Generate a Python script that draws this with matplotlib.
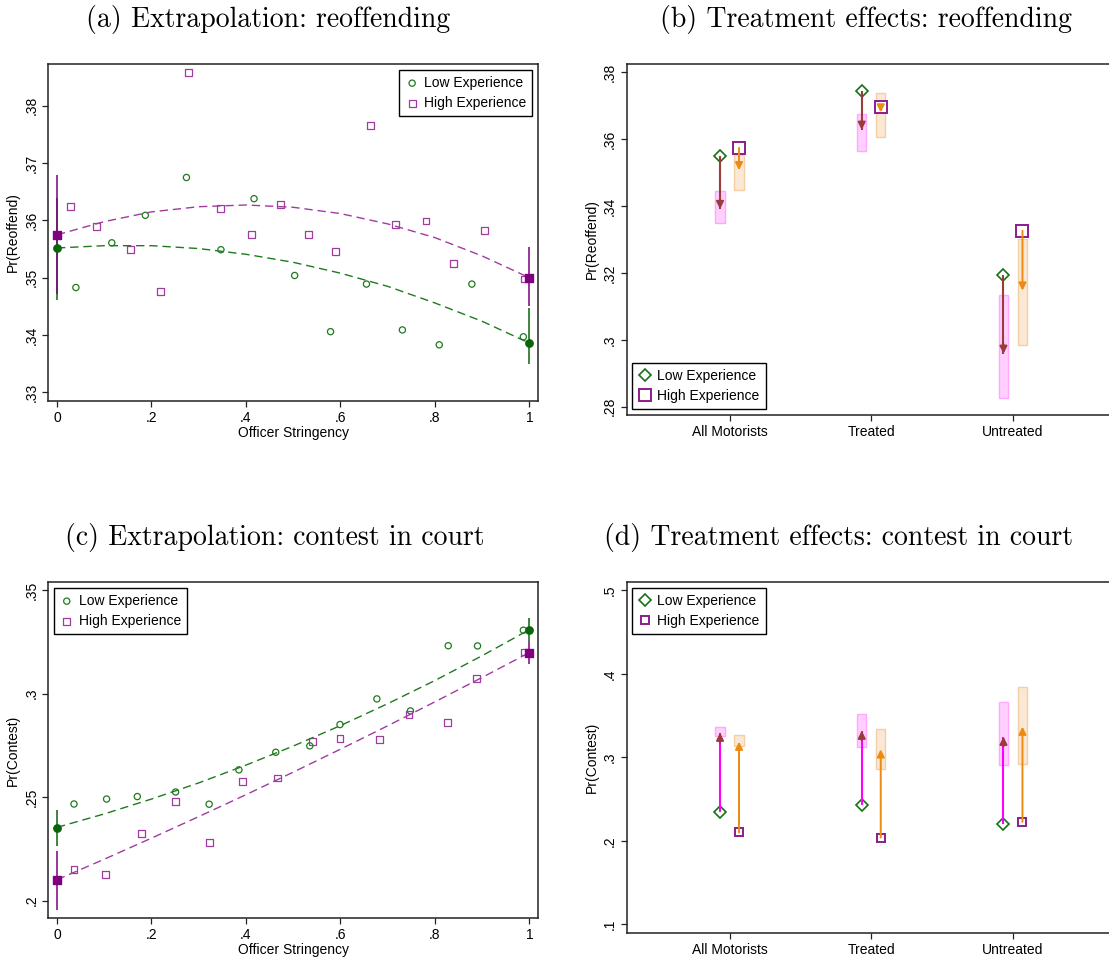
import matplotlib.pyplot as plt

plt.rcParams['font.family'] = ['Liberation Sans', 'DejaVu Sans']
plt.rcParams['font.size'] = 10

# ---- panel (a): extrapolation, reoffending
low_x_a = [.040, .116, .187, .274, .347, .417, .503, .579, .655, .731, .809, .878, .987]
low_y_a = [.3483, .3561, .3609, .3675, .3549, .3638, .3504, .3406, .3489, .3409, .3383, .3489, .3397]
high_x_a = [.028, .083, .156, .219, .279, .346, .411, .473, .533, .590, .663, .717, .781, .840, .905, .989]
high_y_a = [.3625, .3589, .3549, .3476, .3858, .3621, .3576, .3628, .3575, .3546, .3766, .3593, .3599,
            .3525, .3582, .3498]
fit_x = [0, .1, .2, .3, .4, .5, .6, .7, .8, .9, 1]
low_fit_a = [.3552, .3556, .3556, .3551, .3541, .3527, .3508, .3485, .3456, .3424, .3386]
high_fit_a = [.3575, .3598, .3615, .3624, .3627, .3623, .3612, .3594, .3570, .3538, .3500]
end_x = [0, 1]
low_end_a = [.3552, .3386]
low_ci_lo_a = [.3462, .3349]
low_ci_hi_a = [.3640, .3447]
high_end_a = [.3575, .3500]
high_ci_lo_a = [.3472, .3450]
high_ci_hi_a = [.3679, .3554]

# ---- panel (c): extrapolation, contest in court
low_x_c = [.036, .105, .170, .251, .322, .385, .463, .535, .599, .677, .748, .828, .890, .987]
low_y_c = [.2467, .2491, .2503, .2525, .2466, .2632, .2717, .2748, .2851, .2975, .2917, .3232, .3231, .3307]
high_x_c = [.036, .103, .179, .250, .323, .393, .467, .541, .599, .683, .745, .826, .888, .989]
high_y_c = [.2150, .2126, .2325, .2480, .2279, .2575, .2593, .2768, .2783, .2778, .2901, .2859, .3073, .3202]
low_fit_c = [.2354, .2419, .2491, .2569, .2655, .2747, .2846, .2952, .3064, .3184, .3310]
high_fit_c = [.2101, .2200, .2302, .2406, .2512, .2621, .2732, .2845, .2961, .3079, .3199]
low_end_c = [.2353, .3310]
low_ci_lo_c = [.2263, .3253]
low_ci_hi_c = [.2440, .3366]
high_end_c = [.2101, .3199]
high_ci_lo_c = [.1957, .3146]
high_ci_hi_c = [.2238, .3253]

# ---- panels (b) and (d): treatment effects
groups = ['All Motorists', 'Treated', 'Untreated']
low_b = [.3551, .3745, .3193]
low_cf_b = [.3391, .3628, .2958]
low_cf_lo_b = [.3349, .3566, .2827]
low_cf_hi_b = [.3445, .3675, .3133]
high_b = [.3574, .3696, .3326]
high_cf_b = [.3507, .3680, .3147]
high_cf_lo_b = [.3448, .3608, .2983]
high_cf_hi_b = [.3553, .3738, .3301]

low_d = [.2348, .2428, .2200]
low_cf_d = [.3296, .3320, .3248]
low_cf_lo_d = [.3260, .3128, .2912]
low_cf_hi_d = [.3360, .3516, .3664]
high_d = [.2100, .2040, .2228]
high_cf_d = [.3188, .3096, .3368]
high_cf_lo_d = [.3140, .2864, .2924]
high_cf_hi_d = [.3268, .3340, .3844]

x_ticks = [0, .2, .4, .6, .8, 1]
x_ticklabels = ['0', '.2', '.4', '.6', '.8', '1']
yt_a = [.33, .34, .35, .36, .37, .38]
ytl_a = ['.33', '.34', '.35', '.36', '.37', '.38']
yt_b = [.28, .30, .32, .34, .36, .38]
ytl_b = ['.28', '.3', '.32', '.34', '.36', '.38']
yt_c = [.20, .25, .30, .35]
ytl_c = ['.2', '.25', '.3', '.35']
yt_d = [.1, .2, .3, .4, .5]
ytl_d = ['.1', '.2', '.3', '.4', '.5']

titles = ['(a) Extrapolation: reoffending', '(b) Treatment effects: reoffending',
          '(c) Extrapolation: contest in court', '(d) Treatment effects: contest in court']

GREEN = '#1f7a1f'
DKGREEN = '#0a640a'
PURPLE = '#a03ca0'
DKPURPLE = '#800080'
BROWN = '#9b3b3b'
MAGENTA = '#ff00ff'
ORANGE = '#ec8a12'
PINK_F, PINK_E = '#ffd0ff', '#ffa8ff'
ORG_F, ORG_E = '#fbe8d4', '#f2cfa6'

W, H = 1109, 959
fig = plt.figure(figsize=(W / 100, H / 100), dpi=100)


def rect(l, t, r, b):
    return [l / W, 1 - b / H, (r - l) / W, (b - t) / H]


def style(ax, ylim, yt, ytl, ylabel):
    ax.set_ylim(*ylim)
    ax.set_yticks(yt)
    ax.set_yticklabels(ytl, rotation=90, va='center')
    ax.set_ylabel(ylabel, labelpad=3)
    for s in ax.spines.values():
        s.set_linewidth(1.1)
        s.set_color('#222222')
    ax.tick_params(direction='out', length=4, width=0.9, color='#222222', pad=3)


def legend(ax, loc):
    leg = ax.legend(loc=loc, fancybox=False, edgecolor='black', framealpha=1, borderpad=0.45,
                    handletextpad=0.35, handlelength=1.0, borderaxespad=0.4, labelspacing=0.45,
                    scatterpoints=1)
    leg.get_frame().set_linewidth(1.0)


def extrapolation(ax, lx, ly, hx, hy, lfit, hfit, lend, llo, lhi, hend, hlo, hhi):
    ax.plot(fit_x, lfit, color=GREEN, lw=1.0, dashes=(6, 3.5))
    ax.plot(fit_x, hfit, color=PURPLE, lw=1.0, dashes=(6, 3.5))
    ax.scatter(lx, ly, s=20, facecolors='none', edgecolors=GREEN, lw=0.9, label='Low Experience')
    ax.scatter(hx, hy, s=24, marker='s', facecolors='none', edgecolors=PURPLE, lw=0.9,
               label='High Experience')
    ax.vlines(end_x, llo, lhi, color=DKGREEN, lw=1.1)
    ax.vlines(end_x, hlo, hhi, color=DKPURPLE, lw=1.1)
    ax.scatter(end_x, lend, s=28, color=DKGREEN, zorder=4)
    ax.scatter(end_x, hend, s=36, marker='s', color=DKPURPLE, zorder=4)
    ax.set_xlim(-0.019, 1.018)
    ax.set_xticks(x_ticks)
    ax.set_xticklabels(x_ticklabels)
    ax.set_xlabel('Officer Stringency', labelpad=1)


def effects(ax, low, low_cf, llo, lhi, high, high_cf, hlo, hhi, low_shaft, dsize, ssize):
    off = 0.067
    pos = [1, 2, 3]
    xl = [p - off for p in pos]
    xh = [p + off for p in pos]
    ax.bar(xl, [h - l for l, h in zip(llo, lhi)], bottom=llo, width=0.065,
           color=PINK_F, edgecolor=PINK_E, lw=1.0, zorder=1)
    ax.bar(xh, [h - l for l, h in zip(hlo, hhi)], bottom=hlo, width=0.065,
           color=ORG_F, edgecolor=ORG_E, lw=1.0, zorder=1)
    ax.plot(xl, low, linestyle='none', marker='D', ms=dsize, mfc='white', mec='#167016', mew=1.2,
            label='Low Experience', zorder=2)
    ax.plot(xh, high, linestyle='none', marker='s', ms=ssize, mfc='white', mec='#8b1c8b', mew=1.4,
            label='High Experience', zorder=2)
    for x, a, b in zip(xl, low, low_cf):
        sign = 1 if b > a else -1
        ax.plot([x, x], [a, b], color=low_shaft, lw=1.5, zorder=3, solid_capstyle='butt')
        ax.annotate('', xy=(x, b), xytext=(0, -sign * 7), textcoords='offset points',
                    arrowprops=dict(arrowstyle='-|>', color=BROWN, lw=1.4, mutation_scale=11,
                                    shrinkA=0, shrinkB=0), zorder=4)
    for x, a, b in zip(xh, high, high_cf):
        ax.annotate('', xy=(x, b), xytext=(x, a),
                    arrowprops=dict(arrowstyle='-|>', color=ORANGE, lw=1.4, mutation_scale=11,
                                    shrinkA=0, shrinkB=0), zorder=4)
    ax.set_xlim(0.273, 3.727)
    ax.set_xticks(pos)
    ax.set_xticklabels(groups)


ax_a = fig.add_axes(rect(48, 64, 538, 401))
extrapolation(ax_a, low_x_a, low_y_a, high_x_a, high_y_a, low_fit_a, high_fit_a,
              low_end_a, low_ci_lo_a, low_ci_hi_a, high_end_a, high_ci_lo_a, high_ci_hi_a)
style(ax_a, (.3285, .3873), yt_a, ytl_a, 'Pr(Reoffend)')
legend(ax_a, 'upper right')

ax_b = fig.add_axes(rect(626.5, 64, 1116, 415))
effects(ax_b, low_b, low_cf_b, low_cf_lo_b, low_cf_hi_b, high_b, high_cf_b, high_cf_lo_b,
        high_cf_hi_b, BROWN, 6, 8)
style(ax_b, (.2775, .3825), yt_b, ytl_b, 'Pr(Reoffend)')
legend(ax_b, 'lower left')

ax_c = fig.add_axes(rect(48, 582, 538, 918))
extrapolation(ax_c, low_x_c, low_y_c, high_x_c, high_y_c, low_fit_c, high_fit_c,
              low_end_c, low_ci_lo_c, low_ci_hi_c, high_end_c, high_ci_lo_c, high_ci_hi_c)
style(ax_c, (.1916, .354), yt_c, ytl_c, 'Pr(Contest)')
legend(ax_c, 'upper left')

ax_d = fig.add_axes(rect(626.5, 582, 1116, 933))
effects(ax_d, low_d, low_cf_d, low_cf_lo_d, low_cf_hi_d, high_d, high_cf_d, high_cf_lo_d,
        high_cf_hi_d, MAGENTA, 6, 5.2)
style(ax_d, (.0896, .5101), yt_d, ytl_d, 'Pr(Contest)')
legend(ax_d, 'upper left')

title_xy = [(268, 20), (866, 20), (275, 537), (839, 537)]
for t, (x, y) in zip(titles, title_xy):
    fig.text(x / W, 1 - y / H, t, ha='center', va='center', fontsize=20, family='cmr10')

fig.savefig('out.png', dpi=100)
